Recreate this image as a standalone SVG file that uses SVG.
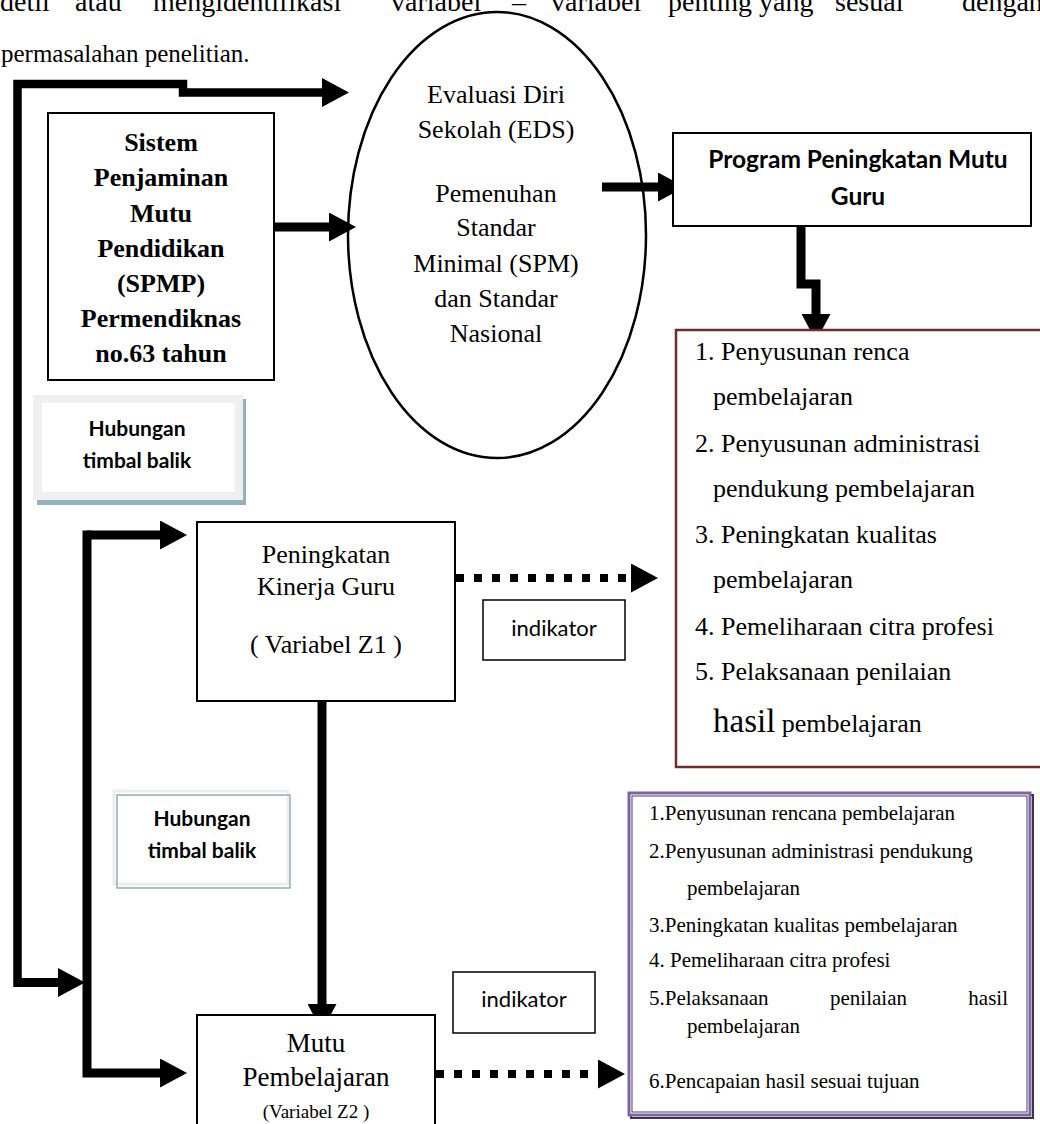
<svg xmlns="http://www.w3.org/2000/svg" width="1040" height="1124" viewBox="0 0 1040 1124">
  <style>
    .serif { font-family: "Liberation Serif", "Times New Roman", serif; fill: #000; }
    .sans { font-family: Lato, "Open Sans", "Liberation Sans", sans-serif; fill: #000; }
    .body { font-size: 25px; }
    .t26 { font-size: 26px; }
    .t27 { font-size: 27px; }
    .t21 { font-size: 21px; }
    .bold { font-weight: bold; }
    .mid { text-anchor: middle; }
    .box { fill: #fff; stroke: #000; stroke-width: 2; }
    .thin { fill: #fff; stroke: #000; stroke-width: 1.5; }
    .link { fill: none; stroke: #000; stroke-width: 9; stroke-linejoin: miter; marker-end: url(#ah); }
    .dots { fill: none; stroke: #000; stroke-width: 8; stroke-dasharray: 8 10; marker-end: url(#ah); }
  </style>
  <defs>
    <marker id="ah" viewBox="0 0 27 29" refX="0" refY="14.5" markerWidth="27" markerHeight="29" markerUnits="userSpaceOnUse" orient="auto">
      <path d="M0,0 L27,14.5 L0,29 z" fill="#000"/>
    </marker>
  </defs>

  <rect width="1040" height="1124" fill="#fff"/>

  <!-- running paragraph text above the figure -->
  <g id="paragraph" class="serif body">
    <g font-size="28">
      <text x="0" y="11">detil</text>
      <text x="75" y="11">atau</text>
      <text x="153" y="11">mengidentifikasi</text>
      <text x="391" y="11">variabel</text>
      <text x="512" y="11">–</text>
      <text x="551" y="11">variabel</text>
      <text x="668" y="11">penting</text>
      <text x="759" y="11">yang</text>
      <text x="835" y="11">sesuai</text>
      <text x="962" y="11">dengan</text>
    </g>
    <text x="1" y="62">permasalahan penelitian.</text>
  </g>

  <!-- connectors -->
  <g id="connectors">
    <!-- outer feedback frame -->
    <path d="M17.5,987 V84 H183 V92.5 H322" fill="none" stroke="#000" stroke-width="8.5" marker-end="url(#ah)"/>
    <path d="M17.5,982.5 H58" class="link"/>
    <!-- inner feedback rail -->
    <path d="M87,535 H160" class="link"/>
    <path d="M87,530.5 V1073 H160" class="link"/>
    <!-- main flow -->
    <path d="M274,227 H329" class="link" stroke-width="10"/>
    <path d="M602,187 H658" class="link" stroke-width="10"/>
    <path d="M801,226 V284 H816 V314" class="link" stroke-width="8"/>
    <path d="M322,701 V1004" class="link"/>
    <!-- indicator links -->
    <path d="M456,578 H631" class="dots"/>
    <path d="M436,1074 H598" class="dots"/>
  </g>

  <g id="spmp">
    <rect x="48" y="113" width="226" height="267" class="box"/>
    <g class="serif t26 bold mid">
      <text x="161" y="151">Sistem</text>
      <text x="161" y="186">Penjaminan</text>
      <text x="161" y="222">Mutu</text>
      <text x="161" y="257">Pendidikan</text>
      <text x="161" y="292">(SPMP)</text>
      <text x="161" y="327">Permendiknas</text>
      <text x="161" y="362">no.63 tahun</text>
    </g>
  </g>

  <g id="eds">
    <ellipse cx="497" cy="235" rx="149" ry="223" fill="none" stroke="#000" stroke-width="2.5"/>
    <g class="serif t26 mid">
      <text x="496" y="103">Evaluasi Diri</text>
      <text x="496" y="138">Sekolah (EDS)</text>
      <text x="496" y="202">Pemenuhan</text>
      <text x="496" y="236">Standar</text>
      <text x="496" y="272">Minimal (SPM)</text>
      <text x="496" y="307">dan Standar</text>
      <text x="496" y="342">Nasional</text>
    </g>
  </g>

  <g id="program">
    <rect x="673" y="133" width="358" height="93" class="box"/>
    <g class="sans bold mid" font-size="24.5">
      <text x="858" y="168">Program Peningkatan Mutu</text>
      <text x="858" y="205">Guru</text>
    </g>
  </g>

  <g id="indikator-guru">
    <rect x="676" y="330" width="380" height="437" fill="#fff" stroke="#6f2c2c" stroke-width="2.5"/>
    <g class="serif t26">
      <text x="695" y="360">1. Penyusunan renca</text>
      <text x="713" y="405">pembelajaran</text>
      <text x="695" y="452">2. Penyusunan administrasi</text>
      <text x="713" y="497">pendukung pembelajaran</text>
      <text x="695" y="543">3. Peningkatan kualitas</text>
      <text x="713" y="588">pembelajaran</text>
      <text x="695" y="635">4. Pemeliharaan citra profesi</text>
      <text x="695" y="680">5. Pelaksanaan penilaian</text>
      <text x="713" y="732"><tspan font-size="33">hasil</tspan> pembelajaran</text>
    </g>
  </g>

  <g id="hubungan-1">
    <rect x="37" y="399" width="209" height="106" fill="#93b1bd"/>
    <rect x="33" y="395" width="210" height="105" fill="#efefef"/>
    <rect x="42" y="403" width="193" height="89" fill="#fff"/>
    <g class="sans bold mid" font-size="21">
      <text x="137" y="436">Hubungan</text>
      <text x="137" y="468">timbal balik</text>
    </g>
  </g>

  <g id="kinerja">
    <rect x="197" y="522" width="258" height="179" class="box" stroke-width="2.5"/>
    <g class="serif t26 mid">
      <text x="326" y="563">Peningkatan</text>
      <text x="326" y="595">Kinerja Guru</text>
      <text x="326" y="653">( Variabel Z1 )</text>
    </g>
  </g>

  <g id="indikator-label-1">
    <rect x="483" y="600" width="142" height="60" class="thin"/>
    <text x="554" y="636" class="sans mid" font-size="22">indikator</text>
  </g>

  <g id="hubungan-2">
    <rect x="114" y="791" width="174" height="93" fill="#fff" stroke="#ececec" stroke-width="3"/>
    <rect x="117" y="795" width="173" height="93" fill="none" stroke="#8daebb" stroke-width="1.5"/>
    <g class="sans bold mid" font-size="21">
      <text x="202" y="826">Hubungan</text>
      <text x="202" y="858">timbal balik</text>
    </g>
  </g>

  <g id="indikator-pembelajaran">
    <rect x="631" y="795" width="402" height="323" fill="none" stroke="#3f3151" stroke-width="2"/>
    <rect x="629" y="793" width="401" height="322" fill="#fff" stroke="#8064a2" stroke-width="3"/>
    <rect x="632" y="796" width="395" height="316" fill="none" stroke="#4b3a63" stroke-width="1"/>
    <g class="serif t21">
      <text x="649" y="820">1.Penyusunan rencana pembelajaran</text>
      <text x="649" y="858">2.Penyusunan administrasi pendukung</text>
      <text x="687" y="895">pembelajaran</text>
      <text x="649" y="932">3.Peningkatan kualitas pembelajaran</text>
      <text x="649" y="967">4. Pemeliharaan citra profesi</text>
      <text x="649" y="1005">5.Pelaksanaan</text>
      <text x="830" y="1005">penilaian</text>
      <text x="1008" y="1005" text-anchor="end">hasil</text>
      <text x="687" y="1033">pembelajaran</text>
      <text x="649" y="1088">6.Pencapaian hasil sesuai tujuan</text>
    </g>
  </g>

  <g id="indikator-label-2">
    <rect x="453" y="972" width="142" height="61" class="thin"/>
    <text x="524" y="1007" class="sans mid" font-size="22">indikator</text>
  </g>

  <g id="mutu">
    <rect x="197" y="1015" width="238" height="120" class="box" stroke-width="2.5"/>
    <g class="serif mid">
      <text x="316" y="1052" class="t27">Mutu</text>
      <text x="316" y="1086" class="t27">Pembelajaran</text>
      <text x="316" y="1118" font-size="19">(Variabel Z2 )</text>
    </g>
  </g>
</svg>
